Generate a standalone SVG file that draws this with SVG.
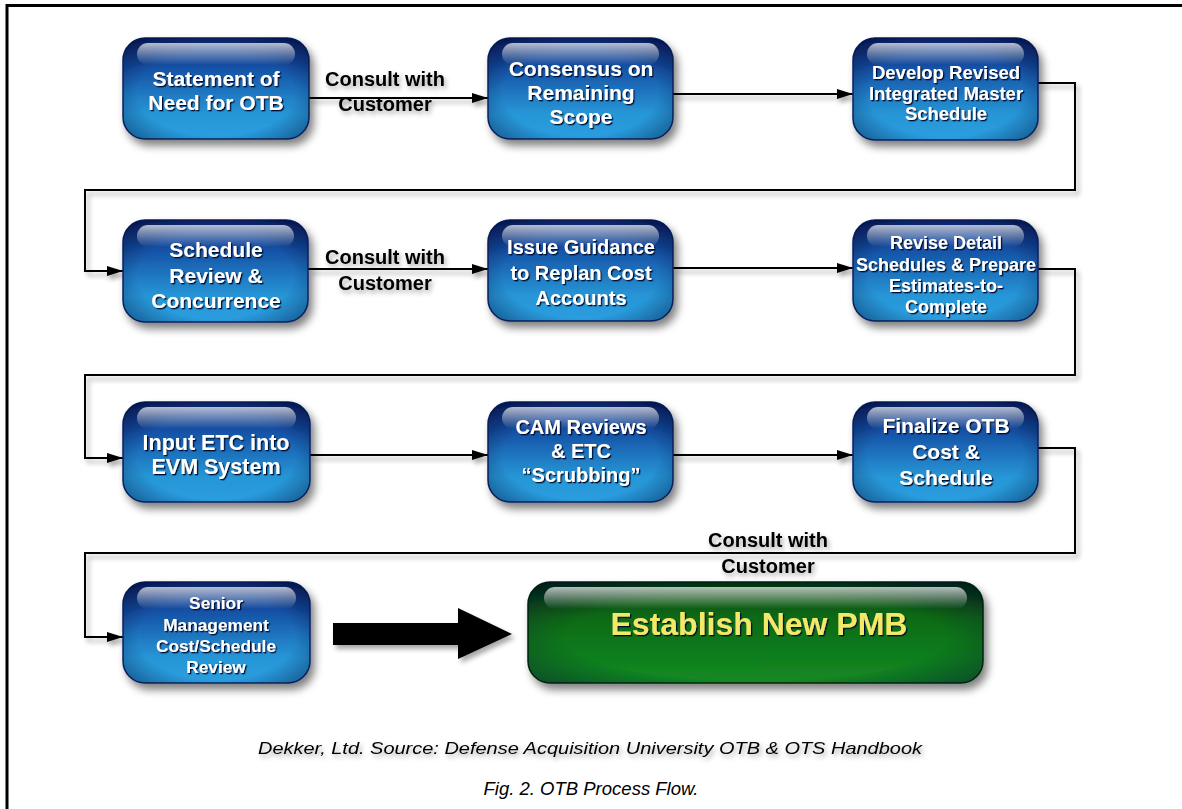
<svg xmlns="http://www.w3.org/2000/svg" width="1182" height="809" viewBox="0 0 1182 809">
<defs>
<linearGradient id="blue" x1="0" y1="0" x2="0" y2="1">
<stop offset="0" stop-color="#0a2a78"/>
<stop offset="0.3" stop-color="#1552a6"/>
<stop offset="0.75" stop-color="#2796d6"/>
<stop offset="1" stop-color="#2a9ee0"/>
</linearGradient>
<linearGradient id="green" x1="0" y1="0" x2="0" y2="1">
<stop offset="0" stop-color="#063a08"/>
<stop offset="0.35" stop-color="#0d6a16"/>
<stop offset="1" stop-color="#138a22"/>
</linearGradient>
<linearGradient id="gloss" x1="0" y1="0" x2="0" y2="1">
<stop offset="0" stop-color="#ffffff" stop-opacity="0.7"/>
<stop offset="1" stop-color="#ffffff" stop-opacity="0"/>
</linearGradient>
<radialGradient id="edge" cx="0.5" cy="0.55" r="0.7">
<stop offset="0.6" stop-color="#000830" stop-opacity="0"/>
<stop offset="1" stop-color="#000830" stop-opacity="0.55"/>
</radialGradient>
<filter id="shadow" x="-20%" y="-20%" width="150%" height="160%">
<feGaussianBlur in="SourceAlpha" stdDeviation="4"/>
<feOffset dx="4" dy="6" result="b"/>
<feComponentTransfer><feFuncA type="linear" slope="0.5"/></feComponentTransfer>
<feMerge><feMergeNode/><feMergeNode in="SourceGraphic"/></feMerge>
</filter>
<filter id="lshadow" x="-10%" y="-50%" width="120%" height="300%">
<feGaussianBlur in="SourceAlpha" stdDeviation="2.5"/>
<feOffset dx="3" dy="4"/>
<feComponentTransfer><feFuncA type="linear" slope="0.35"/></feComponentTransfer>
<feMerge><feMergeNode/><feMergeNode in="SourceGraphic"/></feMerge>
</filter>
<filter id="tshadow" x="-10%" y="-30%" width="120%" height="160%">
<feDropShadow dx="1.3" dy="1.3" stdDeviation="0.7" flood-color="#000a30" flood-opacity="1"/>
</filter>
<filter id="kshadow" x="-10%" y="-30%" width="130%" height="180%">
<feDropShadow dx="2" dy="3" stdDeviation="2.5" flood-color="#000" flood-opacity="0.35"/>
</filter>
<marker id="arr" viewBox="0 0 16 10" refX="16" refY="5" markerWidth="16" markerHeight="10" markerUnits="userSpaceOnUse" orient="auto">
<path d="M0,0 L16,5 L0,10 Z" fill="#000"/>
</marker>
<style>
.box{fill:url(#blue);stroke:#0a2560;stroke-width:1.5}
.edge{fill:url(#edge)}
.gl{fill:url(#gloss)}
.nt{font-family:"Liberation Sans",Arial,sans-serif;font-weight:bold;fill:#fff;text-anchor:middle;filter:url(#tshadow)}
.lbl{font-family:"Liberation Sans",Arial,sans-serif;font-weight:bold;font-size:20px;fill:#000;text-anchor:middle;filter:url(#kshadow)}
.con{fill:none;stroke:#000;stroke-width:2}
.cap{font-family:"Liberation Sans",Arial,sans-serif;font-style:italic;fill:#000;text-anchor:middle}
</style>
</defs>
<rect width="1182" height="809" fill="#fff"/>
<path d="M7,809 V5.5 H1182" fill="none" stroke="#000" stroke-width="3"/>

<g id="connectors" filter="url(#lshadow)">
<path class="con" d="M309,98 H488" marker-end="url(#arr)"/>
<path class="con" d="M673,94 H853" marker-end="url(#arr)"/>
<path class="con" d="M1038,83 H1075 V190 H85 V271 H123" marker-end="url(#arr)"/>
<path class="con" d="M308,269 H488" marker-end="url(#arr)"/>
<path class="con" d="M673,268 H853" marker-end="url(#arr)"/>
<path class="con" d="M1038,269 H1075 V375 H85 V458 H123" marker-end="url(#arr)"/>
<path class="con" d="M310,455 H488" marker-end="url(#arr)"/>
<path class="con" d="M673,455 H853" marker-end="url(#arr)"/>
<path class="con" d="M1038,448 H1075 V553 H85 V637 H123" marker-end="url(#arr)"/>
<polygon points="333,623 458,623 458,608 512,634 458,659 458,645 333,645" fill="#000"/>
</g>

<g id="labels">
<text class="lbl" x="385" y="86">Consult with</text>
<text class="lbl" x="385" y="111">Customer</text>
<text class="lbl" x="385" y="264">Consult with</text>
<text class="lbl" x="385" y="290">Customer</text>
<text class="lbl" x="768" y="547">Consult with</text>
<text class="lbl" x="768" y="573">Customer</text>
</g>

<g id="n1" filter="url(#shadow)">
<rect class="box" x="123" y="38" width="186" height="101" rx="22"/>
<rect class="edge" x="123" y="38" width="186" height="101" rx="22"/>
<rect class="gl" x="137" y="43" width="158" height="22" rx="11"/>
<text class="nt" font-size="21"><tspan x="216" y="86">Statement of</tspan><tspan x="216" y="110">Need for OTB</tspan></text>
</g>
<g id="n2" filter="url(#shadow)">
<rect class="box" x="488" y="38" width="185" height="101" rx="22"/>
<rect class="edge" x="488" y="38" width="185" height="101" rx="22"/>
<rect class="gl" x="502" y="43" width="157" height="22" rx="11"/>
<text class="nt" font-size="21"><tspan x="581" y="76">Consensus on</tspan><tspan x="581" y="100">Remaining</tspan><tspan x="581" y="124">Scope</tspan></text>
</g>
<g id="n3" filter="url(#shadow)">
<rect class="box" x="853" y="38" width="185" height="102" rx="22"/>
<rect class="edge" x="853" y="38" width="185" height="102" rx="22"/>
<rect class="gl" x="867" y="43" width="157" height="22" rx="11"/>
<text class="nt" font-size="18.5"><tspan x="946" y="79">Develop Revised</tspan><tspan x="946" y="100">Integrated Master</tspan><tspan x="946" y="120">Schedule</tspan></text>
</g>
<g id="n4" filter="url(#shadow)">
<rect class="box" x="123" y="220" width="185" height="102" rx="22"/>
<rect class="edge" x="123" y="220" width="185" height="102" rx="22"/>
<rect class="gl" x="137" y="225" width="157" height="22" rx="11"/>
<text class="nt" font-size="21"><tspan x="216" y="257">Schedule</tspan><tspan x="216" y="283">Review &amp;</tspan><tspan x="216" y="308">Concurrence</tspan></text>
</g>
<g id="n5" filter="url(#shadow)">
<rect class="box" x="488" y="220" width="185" height="101" rx="22"/>
<rect class="edge" x="488" y="220" width="185" height="101" rx="22"/>
<rect class="gl" x="502" y="225" width="157" height="22" rx="11"/>
<text class="nt" font-size="20"><tspan x="581" y="254">Issue Guidance</tspan><tspan x="581" y="280">to Replan Cost</tspan><tspan x="581" y="305">Accounts</tspan></text>
</g>
<g id="n6" filter="url(#shadow)">
<rect class="box" x="853" y="220" width="185" height="101" rx="22"/>
<rect class="edge" x="853" y="220" width="185" height="101" rx="22"/>
<rect class="gl" x="867" y="225" width="157" height="22" rx="11"/>
<text class="nt" font-size="18"><tspan x="946" y="249">Revise Detail</tspan><tspan x="946" y="271">Schedules &amp; Prepare</tspan><tspan x="946" y="292">Estimates-to-</tspan><tspan x="946" y="313">Complete</tspan></text>
</g>
<g id="n7" filter="url(#shadow)">
<rect class="box" x="123" y="402" width="187" height="100" rx="22"/>
<rect class="edge" x="123" y="402" width="187" height="100" rx="22"/>
<rect class="gl" x="137" y="407" width="159" height="22" rx="11"/>
<text class="nt" font-size="21.5"><tspan x="216" y="450">Input ETC into</tspan><tspan x="216" y="474">EVM System</tspan></text>
</g>
<g id="n8" filter="url(#shadow)">
<rect class="box" x="488" y="402" width="185" height="100" rx="22"/>
<rect class="edge" x="488" y="402" width="185" height="100" rx="22"/>
<rect class="gl" x="502" y="407" width="157" height="22" rx="11"/>
<text class="nt" font-size="20"><tspan x="581" y="434">CAM Reviews</tspan><tspan x="581" y="458">&amp; ETC</tspan><tspan x="581" y="482">“Scrubbing”</tspan></text>
</g>
<g id="n9" filter="url(#shadow)">
<rect class="box" x="853" y="402" width="185" height="100" rx="22"/>
<rect class="edge" x="853" y="402" width="185" height="100" rx="22"/>
<rect class="gl" x="867" y="407" width="157" height="22" rx="11"/>
<text class="nt" font-size="21"><tspan x="946" y="433">Finalize OTB</tspan><tspan x="946" y="459">Cost &amp;</tspan><tspan x="946" y="485">Schedule</tspan></text>
</g>
<g id="n10" filter="url(#shadow)">
<rect class="box" x="123" y="582" width="187" height="101" rx="22"/>
<rect class="edge" x="123" y="582" width="187" height="101" rx="22"/>
<rect class="gl" x="137" y="587" width="159" height="22" rx="11"/>
<text class="nt" font-size="17.3"><tspan x="216" y="609">Senior</tspan><tspan x="216" y="631">Management</tspan><tspan x="216" y="652">Cost/Schedule</tspan><tspan x="216" y="673">Review</tspan></text>
</g>
<g id="n11" filter="url(#shadow)">
<rect x="528" y="582" width="455" height="101" rx="22" fill="url(#green)" stroke="#042a06" stroke-width="1.5"/>
<rect class="edge" x="528" y="582" width="455" height="101" rx="22"/>
<rect class="gl" x="544" y="587" width="423" height="22" rx="11"/>
<text x="759" y="635" font-family="'Liberation Sans',Arial,sans-serif" font-weight="bold" font-size="32" fill="#f2e86a" text-anchor="middle" filter="url(#tshadow)">Establish New PMB</text>
</g>

<g id="captions">
<text class="cap" x="590" y="754" font-size="17" textLength="664" lengthAdjust="spacingAndGlyphs" filter="url(#kshadow)">Dekker, Ltd. Source: Defense Acquisition University OTB &amp; OTS Handbook</text>
<text class="cap" x="591" y="795" font-size="18" textLength="215" lengthAdjust="spacingAndGlyphs">Fig. 2. OTB Process Flow.</text>
</g>
</svg>
